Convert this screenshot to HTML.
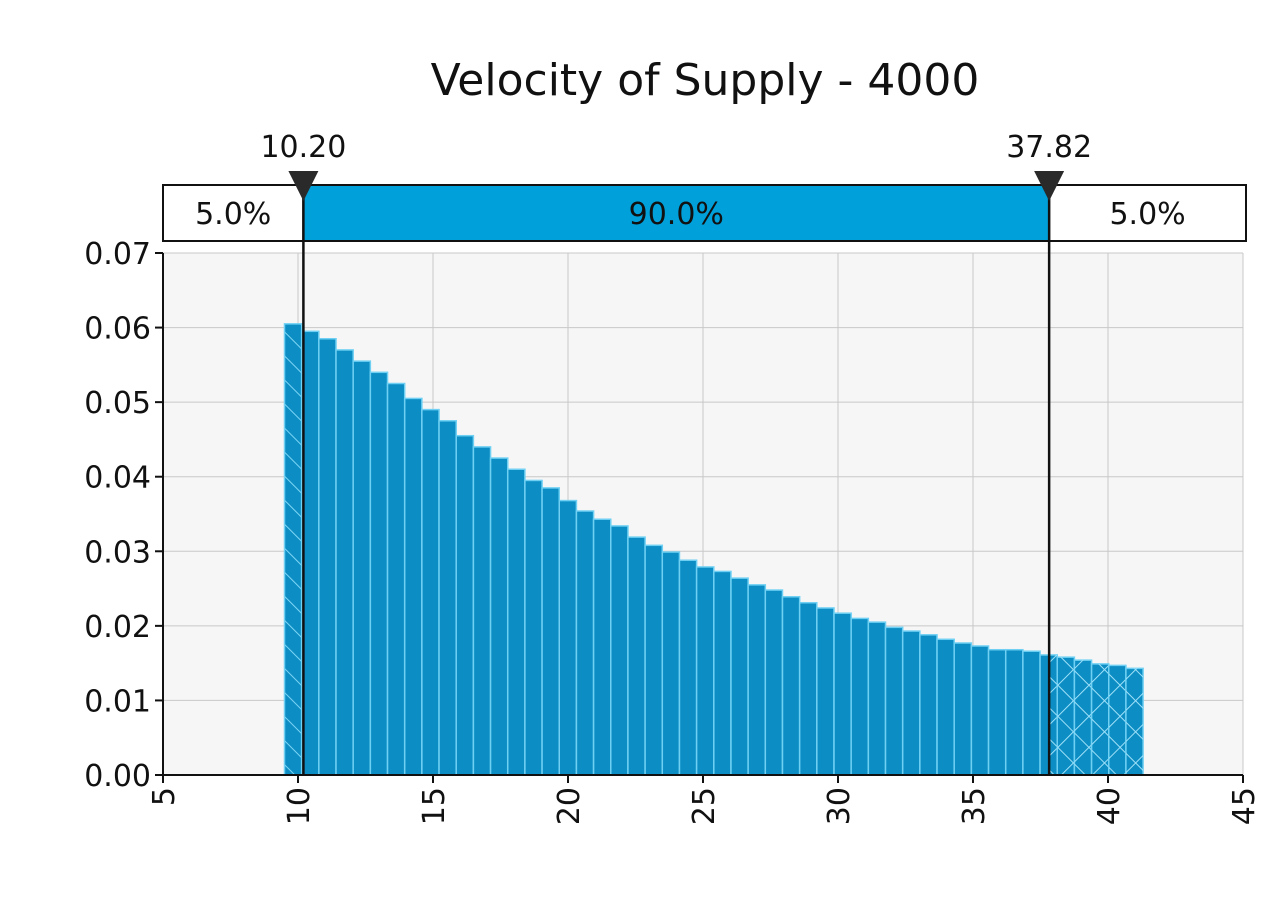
<!DOCTYPE html>
<html><head><meta charset="utf-8"><style>
html,body{margin:0;padding:0;background:#fff;}
svg text{font-family:"DejaVu Sans","Liberation Sans",sans-serif;fill:#111;}
</style></head><body>
<svg id="chart" width="1280" height="894" xmlns="http://www.w3.org/2000/svg">
<defs>
<pattern id="hatchL" patternUnits="userSpaceOnUse" width="17" height="17" patternTransform="rotate(-45)">
<line x1="0" y1="0" x2="0" y2="17" stroke="#7fd6f5" stroke-width="2"/></pattern>
<pattern id="hatchR" patternUnits="userSpaceOnUse" width="22" height="22" patternTransform="rotate(45)">
<line x1="0" y1="0" x2="0" y2="22" stroke="#9fe0f8" stroke-width="2"/><line x1="0" y1="0" x2="22" y2="0" stroke="#9fe0f8" stroke-width="2"/></pattern>
</defs>
<text x="705" y="95" font-size="44" text-anchor="middle">Velocity of Supply - 4000</text>
<g id="grid"></g>
<g id="bars"></g>
<g id="axes"></g>
<g id="band"></g>
</svg>
<script>
const binStart = 9.5;
const binWidth = 0.636;
const barValues = [0.0605,0.0595,0.0585,0.057,0.0555,0.054,0.0525,0.0505,0.049,0.0475,0.0455,0.044,0.0425,0.041,0.0395,0.0385,0.0368,0.0354,0.0343,0.0334,0.0319,0.0308,0.0299,0.0288,0.0279,0.0273,0.0264,0.0255,0.0248,0.0239,0.0231,0.0224,0.0217,0.021,0.0205,0.0198,0.0193,0.0188,0.0182,0.0177,0.0173,0.0168,0.0168,0.0166,0.0161,0.0158,0.0154,0.0149,0.0147,0.0143];
const xTicks = [5,10,15,20,25,30,35,40,45];
const yTicks = [0,0.01,0.02,0.03,0.04,0.05,0.06,0.07];
const yTickLabels = ["0.00","0.01","0.02","0.03","0.04","0.05","0.06","0.07"];
const lowerCut = 10.20, upperCut = 37.82;
const bandLabels = ["5.0%","90.0%","5.0%"];

const NS="http://www.w3.org/2000/svg";
const X0=163,X1=1243,Y0=775,Y1=253;
const xs=v=>X0+(v-5)/40*(X1-X0);
const ys=v=>Y0-v/0.07*(Y0-Y1);
function mk(tag,attrs,parent){const e=document.createElementNS(NS,tag);for(const k in attrs)e.setAttribute(k,attrs[k]);parent.appendChild(e);return e;}
const grid=document.getElementById('grid'),bars=document.getElementById('bars'),axes=document.getElementById('axes'),band=document.getElementById('band');
const bg=mk('rect',{x:X0,y:Y1,width:X1-X0,height:Y0-Y1,fill:'#f6f6f6'},grid);


xTicks.forEach(t=>{const l=mk('line',{x1:xs(t),x2:xs(t),y1:Y1,y2:Y0,stroke:'#c8c8c8','stroke-width':1},grid);

});
yTicks.forEach(t=>{const l=mk('line',{x1:X0,x2:X1,y1:ys(t),y2:ys(t),stroke:'#c8c8c8','stroke-width':1},grid);

});
barValues.forEach((v,i)=>{
 const a=binStart+i*binWidth,b=a+binWidth;
 const x=xs(a),w=xs(b)-xs(a),y=ys(v),h=Y0-y;
 const r=mk('rect',{x:x,y:y,width:w,height:h,fill:'#0c8ec4',stroke:'#6fd0f3','stroke-width':1.5},bars);
 
 
 if(a<lowerCut){const cw=Math.min(xs(b),xs(lowerCut))-x;
  const hr=mk('rect',{x:x,y:y,width:cw,height:h,fill:'url(#hatchL)'},bars);
  
  }
 if(b>upperCut){const sx=Math.max(x,xs(upperCut));
  const hr=mk('rect',{x:sx,y:y,width:xs(b)-sx,height:h,fill:'url(#hatchR)'},bars);
  
  }
});
// axes
const ya=mk('line',{x1:X0,x2:X0,y1:Y1,y2:Y0,stroke:'#111','stroke-width':2},axes);


const xa=mk('line',{x1:X0,x2:X1,y1:Y0,y2:Y0,stroke:'#111','stroke-width':2},axes);


yTicks.forEach((t,i)=>{
 const tk=mk('line',{x1:X0-8,x2:X0,y1:ys(t),y2:ys(t),stroke:'#111','stroke-width':2},axes);
 
 
 const tx=mk('text',{x:X0-12,y:ys(t)+11,'font-size':30,'text-anchor':'end'},axes);tx.textContent=yTickLabels[i];
 
 
});
xTicks.forEach(t=>{
 const tk=mk('line',{x1:xs(t),x2:xs(t),y1:Y0,y2:Y0+8,stroke:'#111','stroke-width':2},axes);
 
 
 const tx=mk('text',{x:0,y:0,'font-size':30,'text-anchor':'end',transform:`translate(${xs(t)+11},${Y0+12}) rotate(-90)`},axes);tx.textContent=String(t);
 
 
});
// band
const BY=185,BH=56,BX0=163,BX1=1246;
const lx=xs(lowerCut),ux=xs(upperCut);
[[BX0,lx,'#fff',bandLabels[0],'lower-tail-region'],[lx,ux,'#00a0da',bandLabels[1],'central-region'],[ux,BX1,'#fff',bandLabels[2],'upper-tail-region']].forEach(s=>{
 const r=mk('rect',{x:s[0],y:BY,width:s[1]-s[0],height:BH,fill:s[2],stroke:'#111','stroke-width':2},band);
 
 
 const t=mk('text',{x:(s[0]+s[1])/2,y:BY+39,'font-size':30,'text-anchor':'middle'},band);t.textContent=s[3];
 
 
});
[[lx,lowerCut,'lower-marker'],[ux,upperCut,'upper-marker']].forEach(m=>{
 const l=mk('line',{x1:m[0],x2:m[0],y1:BY,y2:Y0,stroke:'#111','stroke-width':2.5},band);
 
 
 const p=mk('path',{d:`M${m[0]-15},${BY-14} L${m[0]+15},${BY-14} L${m[0]},${BY+16} Z`,fill:'#2a2a2a'},band);
 
 
 const t=mk('text',{x:m[0],y:BY-28,'font-size':30,'text-anchor':'middle'},band);t.textContent=m[1].toFixed(2);
 
 
});
</script>
</body></html>
